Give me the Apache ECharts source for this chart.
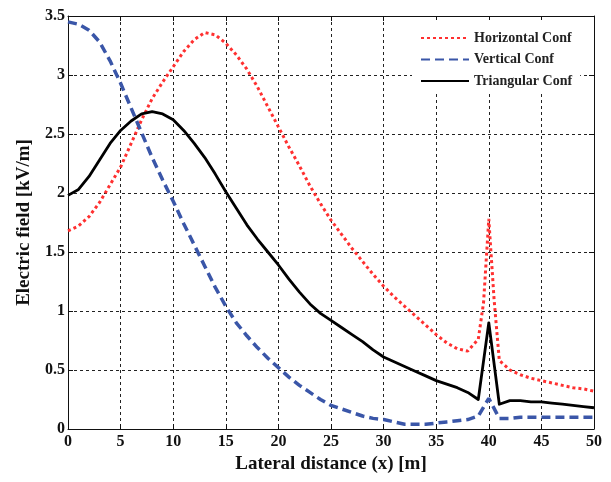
<!DOCTYPE html>
<html><head><meta charset="utf-8">
<script src="https://cdn.jsdelivr.net/npm/echarts@6/dist/echarts.min.js"></script>
<style>html,body{margin:0;padding:0;background:#fff}#c{width:611px;height:482px}</style>
</head><body><div id="c"></div>
<script>
const xs = [0,1,2,3,4,5,6,7,8,9,10,11,12,13,14,15,16,17,18,19,20,21,22,23,24,25,26,27,28,29,30,31,32,33,34,35,36,37,38,39,39.5,40,40.5,41,42,43,44,45,46,47,48,49,50];
const horizontal = [1.68,1.72,1.8,1.92,2.07,2.22,2.42,2.62,2.8,2.94,3.07,3.2,3.3,3.36,3.34,3.27,3.17,3.05,2.9,2.73,2.56,2.39,2.23,2.06,1.91,1.77,1.65,1.53,1.42,1.31,1.21,1.12,1.04,0.96,0.88,0.8,0.73,0.68,0.66,0.76,1.07,1.78,1.1,0.58,0.5,0.46,0.43,0.41,0.39,0.37,0.35,0.34,0.32];
const vertical = [3.45,3.43,3.38,3.28,3.12,2.93,2.72,2.51,2.3,2.11,1.93,1.74,1.56,1.38,1.2,1.04,0.9,0.79,0.69,0.6,0.52,0.44,0.37,0.31,0.25,0.2,0.17,0.14,0.11,0.09,0.08,0.06,0.04,0.04,0.04,0.05,0.06,0.07,0.08,0.11,null,0.26,null,0.09,0.09,0.1,0.1,0.1,0.1,0.1,0.1,0.1,0.1];
const triangular = [1.98,2.03,2.14,2.28,2.42,2.53,2.61,2.67,2.69,2.67,2.62,2.53,2.42,2.3,2.16,2.01,1.87,1.73,1.61,1.5,1.39,1.27,1.16,1.06,0.98,0.92,0.86,0.8,0.74,0.67,0.61,0.57,0.53,0.49,0.45,0.41,0.38,0.35,0.31,0.25,null,0.9,null,0.21,0.24,0.24,0.23,0.23,0.22,0.21,0.2,0.19,0.18];
const seriesNames = ['Horizontal Conf','Vertical Conf','Triangular Conf'];
const xTicks = {min:0, max:50, interval:5};
const yTicks = {min:0, max:3.5, interval:0.5};

const pairs = arr => xs.map((x,i)=>[x, arr[i]]);
const font = '"Liberation Serif","Times New Roman",serif';
const chart = echarts.init(document.getElementById('c'));
const gridLine = {show:true, lineStyle:{color:'#222', width:1, type:[3,3]}};
chart.setOption({
  animation:false,
  backgroundColor:'#fff',
  grid:{left:68, right:17, top:16, bottom:53, show:false},
  legend:{
    orient:'vertical', left:412, top:20, padding:[11,8,5,8],
    backgroundColor:'#fff', itemWidth:48, itemHeight:14, itemGap:7.5,
    itemStyle:{opacity:0},
    textStyle:{fontFamily:font, fontWeight:'bold', fontSize:14, color:'#222'},
    data:seriesNames
  },
  xAxis:[{
    type:'value', min:xTicks.min, max:xTicks.max, interval:xTicks.interval,
    name:'Lateral distance (x) [m]', nameLocation:'middle', nameGap:26,
    nameTextStyle:{fontFamily:font, fontWeight:'bold', fontSize:19, color:'#111'},
    axisLine:{show:true, onZero:false, lineStyle:{color:'#111', width:1}},
    axisTick:{show:true, inside:true, length:5, lineStyle:{color:'#111'}},
    axisLabel:{fontFamily:font, fontWeight:'bold', fontSize:16, color:'#111', margin:5},
    splitLine:gridLine
  },{
    type:'value', position:'top', min:xTicks.min, max:xTicks.max, interval:xTicks.interval,
    axisLine:{show:true, onZero:false, lineStyle:{color:'#111', width:1}},
    axisTick:{show:true, inside:true, length:5, lineStyle:{color:'#111'}},
    axisLabel:{show:false}, splitLine:{show:false}
  }],
  yAxis:[{
    type:'value', min:yTicks.min, max:yTicks.max, interval:yTicks.interval,
    name:'Electric field [kV/m]', nameLocation:'middle', nameGap:34,
    nameTextStyle:{fontFamily:font, fontWeight:'bold', fontSize:19, color:'#111'},
    axisLine:{show:true, onZero:false, lineStyle:{color:'#111', width:1}},
    axisTick:{show:true, inside:true, length:5, lineStyle:{color:'#111'}},
    axisLabel:{fontFamily:font, fontWeight:'bold', fontSize:16, color:'#111', margin:3},
    splitLine:gridLine
  },{
    type:'value', position:'right', min:yTicks.min, max:yTicks.max, interval:yTicks.interval,
    axisLine:{show:true, onZero:false, lineStyle:{color:'#111', width:1}},
    axisTick:{show:true, inside:true, length:5, lineStyle:{color:'#111'}},
    axisLabel:{show:false}, splitLine:{show:false}
  }],
  series:[
    {name:seriesNames[0], type:'line', data:pairs(horizontal), symbol:'none', connectNulls:true,
     lineStyle:{color:'#ff3030', width:3, type:[3,3], cap:'butt'}, itemStyle:{color:'#ff3030'}},
    {name:seriesNames[1], type:'line', data:pairs(vertical), symbol:'none', connectNulls:true,
     lineStyle:{color:'#3a56a8', width:3.5, type:[9,5], cap:'butt'}, itemStyle:{color:'#3a56a8'}},
    {name:seriesNames[2], type:'line', data:pairs(triangular), symbol:'none', connectNulls:true,
     lineStyle:{color:'#000', width:2.8, join:'round'}, itemStyle:{color:'#000'}}
  ]
});
</script></body></html>
